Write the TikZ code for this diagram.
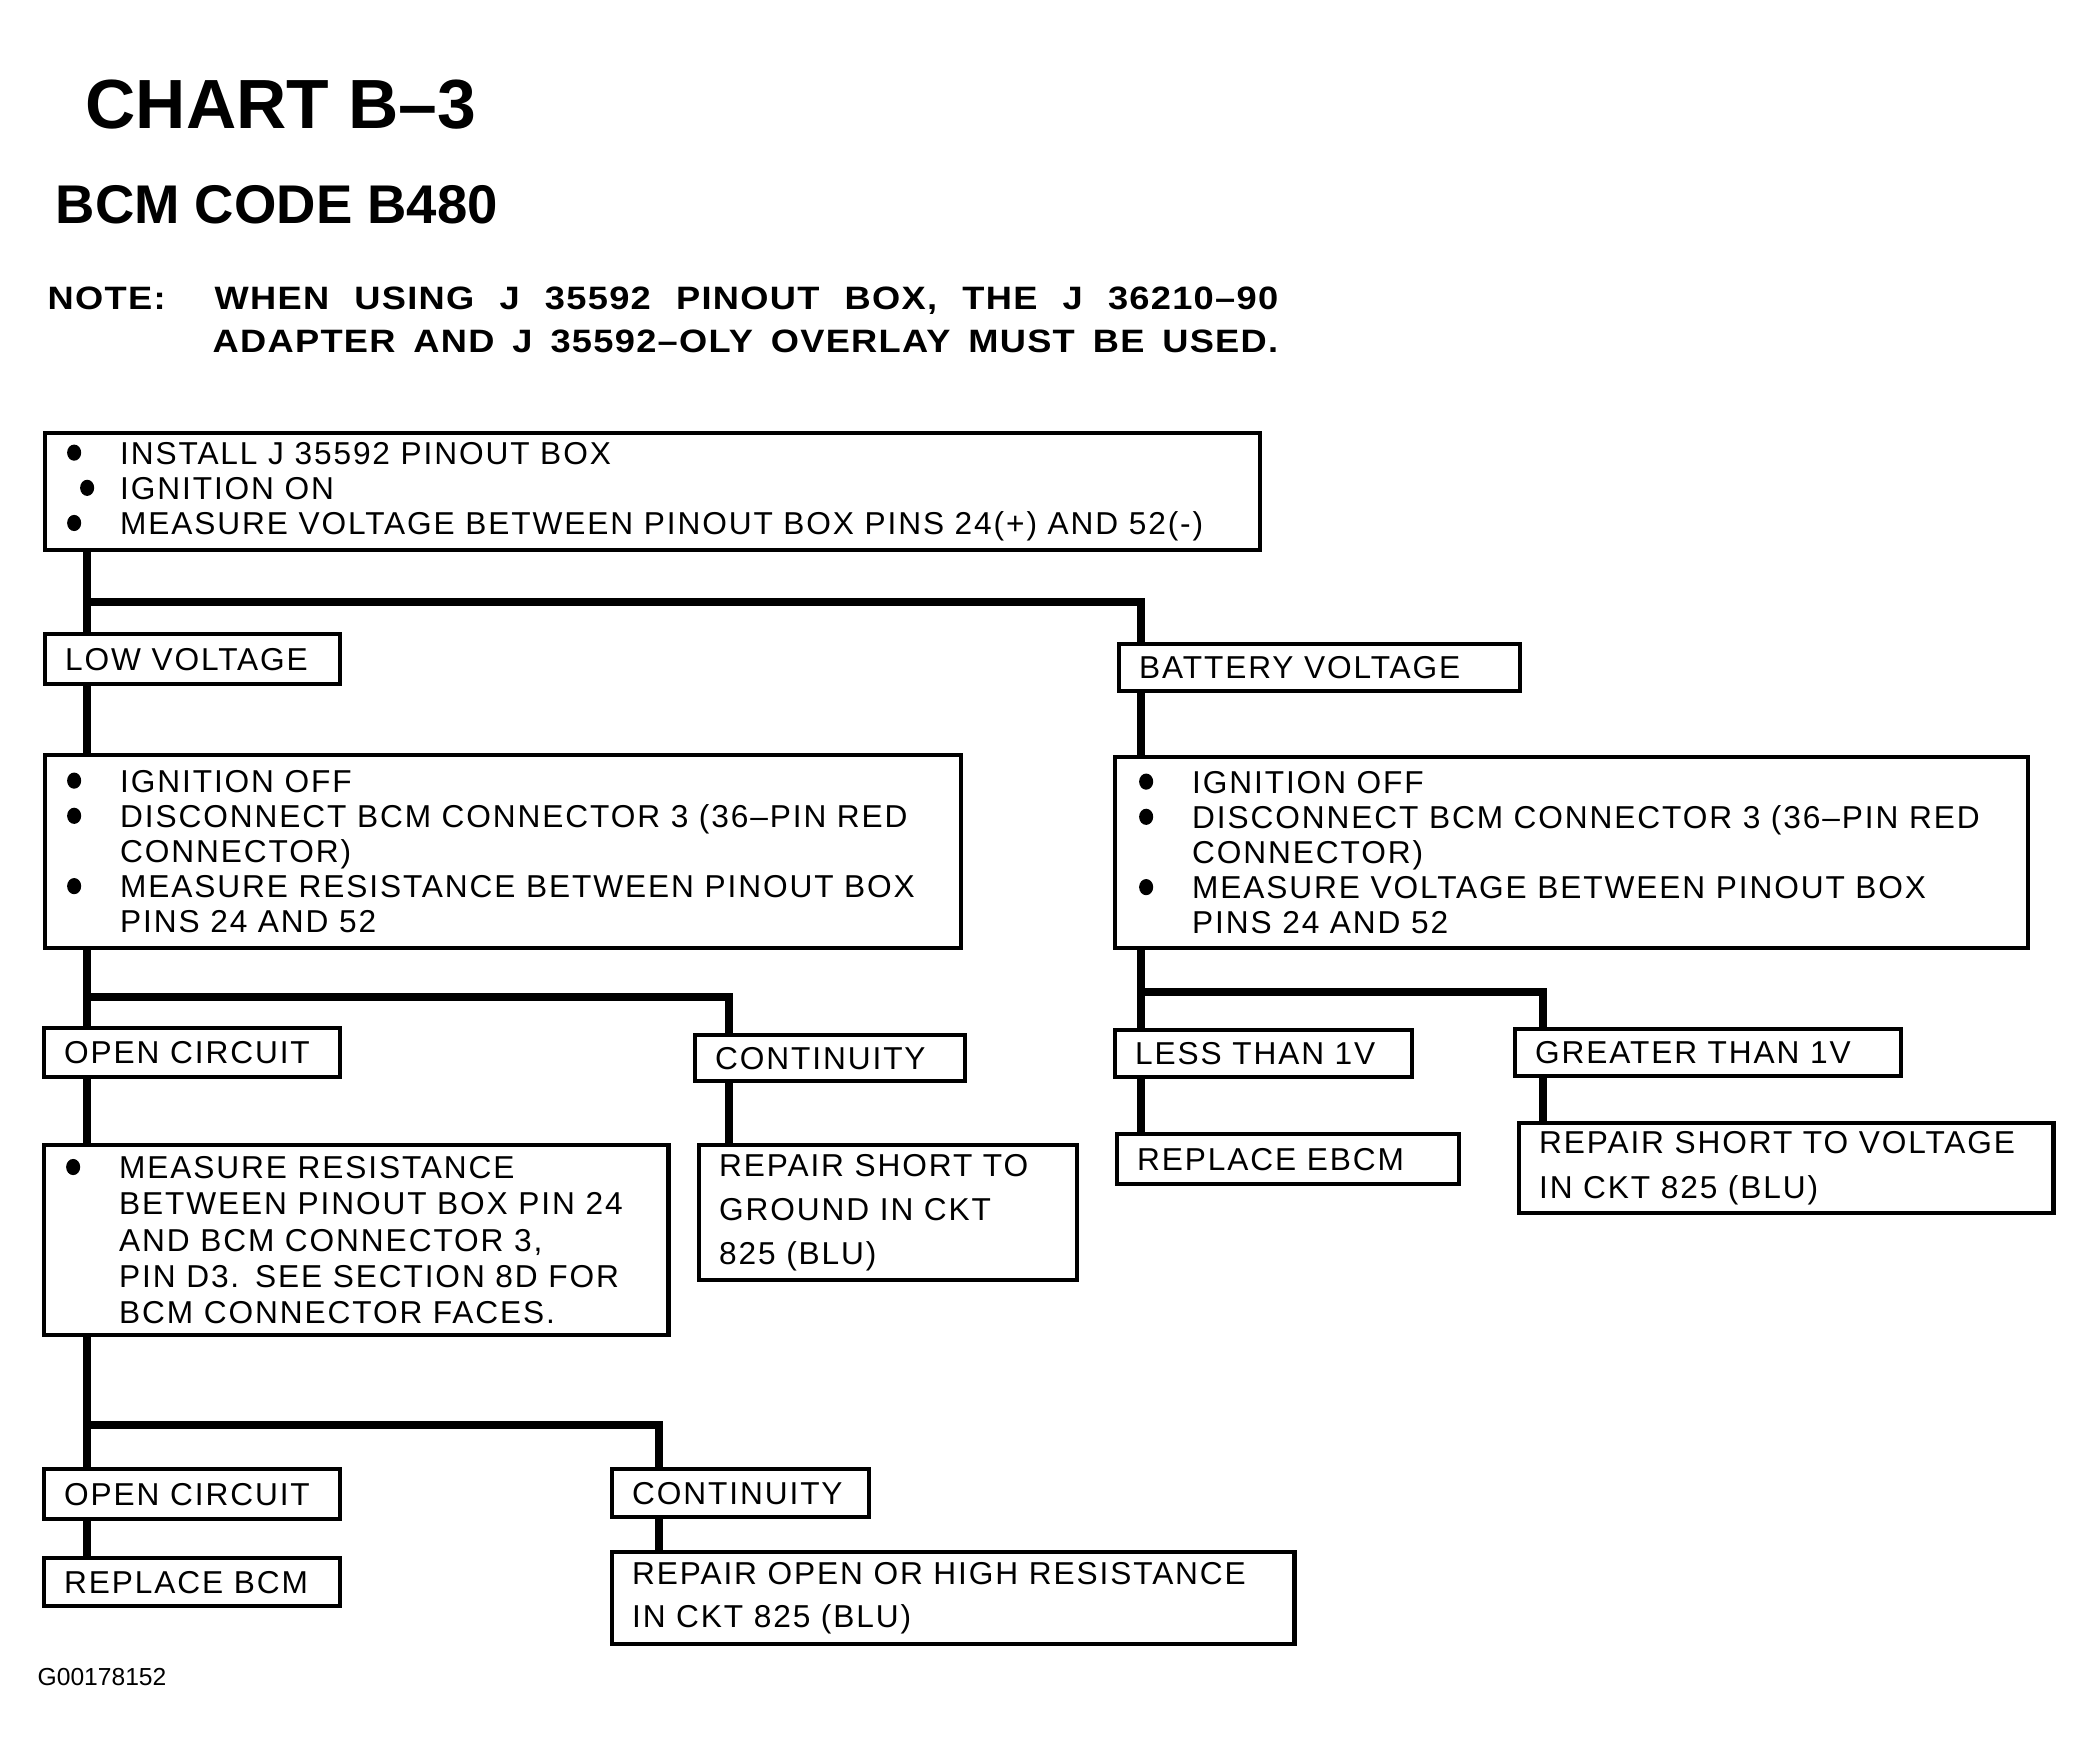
\documentclass[tikz,border=0pt]{standalone}
\usepackage{fontspec}
\setmainfont{Liberation Sans}
\newfontfamily\boxfont[LetterSpace=6]{Liberation Sans}
\newfontfamily\notefont[FakeStretch=1.12, LetterSpace=4]{Liberation Sans}
\newcommand{\dotmark}{\tikz[baseline=0pt, x=1pt, y=1pt]\fill (2,3.3) ellipse (2 and 2.3);}
\newcommand{\bl}{\makebox[0.53cm][l]{\dotmark}}
\newcommand{\nb}{\hspace*{0.53cm}}
\tikzset{
  box/.style={draw, line width=1.2pt, anchor=north west, align=left,
    inner xsep=0.22cm, inner ysep=0pt,
    font=\boxfont\fontsize{9pt}{10pt}\selectfont},
  lbl/.style={box, inner xsep=0.2cm},
  conn/.style={line width=2.3pt},
  head/.style={anchor=base west, inner sep=0pt}
}
\begin{document}
\begin{tikzpicture}[x=0.01cm, y=-0.01cm]
        \useasboundingbox (0,0) rectangle (2090,1760);

        % Heading
        \node[head, font=\bfseries\fontsize{19.8pt}{24pt}\selectfont] (title) at (85,128) {CHART B–3};
        \node[head, font=\bfseries\fontsize{15.5pt}{18pt}\selectfont] (code) at (55,223) {BCM CODE B480};
        \node[head, font=\notefont\bfseries\fontsize{9.2pt}{11pt}\selectfont] (note) at (47,309) {NOTE:};
        \node[head, font=\notefont\bfseries\fontsize{9.2pt}{11pt}\selectfont] (notea) at (214,309)
            {\makebox[10.63cm][s]{WHEN USING J 35592 PINOUT BOX, THE J 36210–90}};
        \node[head, font=\notefont\bfseries\fontsize{9.2pt}{11pt}\selectfont] (noteb) at (212,352)
            {\makebox[10.65cm][s]{ADAPTER AND J 35592–OLY OVERLAY MUST BE USED.}};

        % First test
        \node[box, text width=11.70cm, minimum height=1.17cm] (install) at (43,431)
            {\bl INSTALL J 35592 PINOUT BOX\\
             \hspace*{0.13cm}\makebox[0.40cm][l]{\dotmark}IGNITION ON\\
             \bl MEASURE VOLTAGE BETWEEN PINOUT BOX PINS 24(+) AND 52(-)};
        \node[lbl, text width=2.55cm, minimum height=0.50cm] (lowv) at (43,632) {LOW VOLTAGE};
        \node[lbl, text width=3.61cm, minimum height=0.47cm] (batt) at (1117,642) {BATTERY VOLTAGE};

        % Low voltage side
        \node[box, text width=8.71cm, minimum height=1.93cm] (chkres) at (43,753)
            {\bl IGNITION OFF\\
             \bl DISCONNECT BCM CONNECTOR 3 (36–PIN RED\\
             \nb CONNECTOR)\\
             \bl MEASURE RESISTANCE BETWEEN PINOUT BOX\\
             \nb PINS 24 AND 52};
        \node[lbl, text width=2.56cm, minimum height=0.49cm] (open1) at (42,1026) {OPEN CIRCUIT};
        \node[lbl, text width=2.30cm, minimum height=0.46cm] (cont1) at (693,1033) {CONTINUITY};
        \node[box, text width=5.80cm, minimum height=1.90cm,
              font=\boxfont\fontsize{9pt}{10.3pt}\selectfont] (meas) at (42,1143)
            {\bl MEASURE RESISTANCE\\
             \nb BETWEEN PINOUT BOX PIN 24\\
             \nb AND BCM CONNECTOR 3,\\
             \nb PIN D3. SEE SECTION 8D FOR\\
             \nb BCM CONNECTOR FACES.};
        \node[lbl, text width=3.38cm, minimum height=1.35cm,
              font=\boxfont\fontsize{9pt}{12.5pt}\selectfont] (gnd) at (697,1143)
            {REPAIR SHORT TO\\ GROUND IN CKT\\ 825 (BLU)};
        \node[lbl, text width=2.56cm, minimum height=0.50cm] (open2) at (42,1467) {OPEN CIRCUIT};
        \node[lbl, text width=2.17cm, minimum height=0.48cm] (cont2) at (610,1467) {CONTINUITY};
        \node[lbl, text width=2.56cm, minimum height=0.48cm] (bcm) at (42,1556) {REPLACE BCM};
        \node[lbl, text width=6.42cm, minimum height=0.92cm,
              font=\boxfont\fontsize{9pt}{12pt}\selectfont] (repair) at (610,1550)
            {REPAIR OPEN OR HIGH RESISTANCE\\ IN CKT 825 (BLU)};

        % Battery voltage side
        \node[box, inner xsep=0.24cm, text width=8.64cm, minimum height=1.91cm] (chkvolt) at (1113,755)
            {\bl IGNITION OFF\\
             \bl DISCONNECT BCM CONNECTOR 3 (36–PIN RED\\
             \nb CONNECTOR)\\
             \bl MEASURE VOLTAGE BETWEEN PINOUT BOX\\
             \nb PINS 24 AND 52};
        \node[lbl, text width=2.57cm, minimum height=0.47cm] (less) at (1113,1028) {LESS THAN 1V};
        \node[lbl, text width=3.46cm, minimum height=0.47cm] (great) at (1513,1027) {GREATER THAN 1V};
        \node[lbl, text width=3.02cm, minimum height=0.50cm] (ebcm) at (1115,1132) {REPLACE EBCM};
        \node[lbl, text width=4.94cm, minimum height=0.90cm,
              font=\boxfont\fontsize{9pt}{12.7pt}\selectfont] (volt) at (1517,1121)
            {REPAIR SHORT TO VOLTAGE\\ IN CKT 825 (BLU)};

        \node[head, font=\fontsize{7pt}{8pt}\selectfont] (fig) at (37,1685) {G00178152};

        % Branch points
        \coordinate (j1) at (87,602);
        \coordinate (j2) at (87,997);
        \coordinate (j3) at (1141,992);
        \coordinate (j4) at (87,1425);
        \coordinate (r2) at (729,997);
        \coordinate (r3) at (1543,992);
        \coordinate (r4) at (659,1425);

        % Connectors
        \draw[conn] (install.south -| j1) -- (lowv.north -| j1);
        \draw[conn] (j1) -| (batt.north -| j3);
        \draw[conn] (lowv.south -| j1) -- (chkres.north -| j1);
        \draw[conn] (batt.south -| j3) -- (chkvolt.north -| j3);
        \draw[conn] (chkres.south -| j2) -- (open1.north -| j2);
        \draw[conn] (j2) -| (cont1.north -| r2);
        \draw[conn] (open1.south -| j2) -- (meas.north -| j2);
        \draw[conn] (cont1.south -| r2) -- (gnd.north -| r2);
        \draw[conn] (chkvolt.south -| j3) -- (less.north -| j3);
        \draw[conn] (j3) -| (great.north -| r3);
        \draw[conn] (less.south -| j3) -- (ebcm.north -| j3);
        \draw[conn] (great.south -| r3) -- (volt.north -| r3);
        \draw[conn] (meas.south -| j4) -- (open2.north -| j4);
        \draw[conn] (j4) -| (cont2.north -| r4);
        \draw[conn] (open2.south -| j4) -- (bcm.north -| j4);
        \draw[conn] (cont2.south -| r4) -- (repair.north -| r4);
\end{tikzpicture}
\end{document}
